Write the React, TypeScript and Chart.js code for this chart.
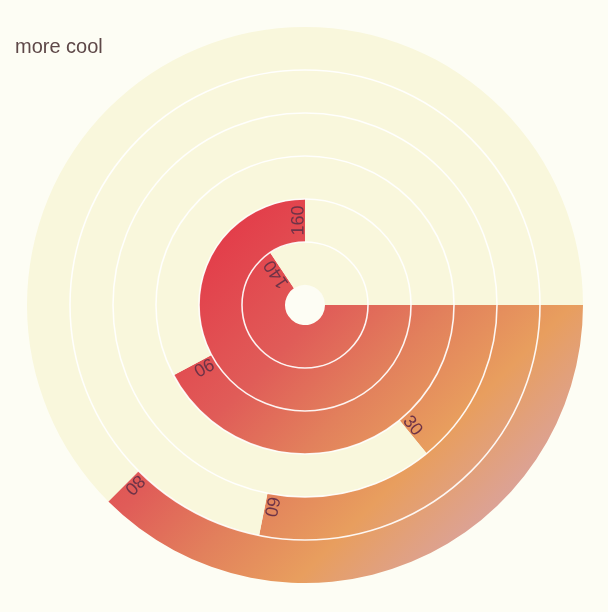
import { useEffect, useRef } from 'react';
import { Chart, registerables } from 'chart.js';

Chart.register(...registerables);

const TITLE = 'more cool';
// radius-axis categories, from the centre outwards
const RING_NAMES = ['r1', 'r2', 'r3', 'r4', 'r5', 'r6'];
const RING_VALUES = [140, 160, 90, 30, 60, 80];
const ANGLE_MAX = 213.3;

const PAGE_BG = '#fdfdf4';
const DISK_BG = '#f9f7dc';
const SPLIT_COLOR = 'rgba(255,255,255,0.9)';
const LABEL_COLOR = '#6e3347';
const TITLE_COLOR = '#5e4848';
const FONT = '"Liberation Sans", Arial, sans-serif';
const GRADIENT_STOPS: [number, string][] = [
  [0, '#e8303e'],
  [0.36, '#e33d4a'],
  [0.52, '#e05c58'],
  [0.63, '#e2805c'],
  [0.74, '#e89e5e'],
  [0.88, '#d9a3a2'],
  [1, '#cfa6c6'],
];

let gradCache: { key: string; g: CanvasGradient } | null = null;
function barGradient(chart: any) {
  const area = chart.chartArea;
  if (!area) return GRADIENT_STOPS[0][1];
  const cx = (area.left + area.right) / 2;
  const cy = (area.top + area.bottom) / 2;
  const r = Math.min(area.width, area.height) / 2;
  const key = `${cx},${cy},${r}`;
  if (gradCache && gradCache.key === key) return gradCache.g;
  const g = chart.ctx.createLinearGradient(cx - r, cy - r, cx + r, cy + r);
  GRADIENT_STOPS.forEach(([o, c]) => g.addColorStop(o, c));
  gradCache = { key, g };
  return g;
}

const decorPlugin = {
  id: 'decor',
  beforeDraw(chart: any) {
    const { ctx, width, height } = chart;
    ctx.save();
    ctx.fillStyle = PAGE_BG;
    ctx.fillRect(0, 0, width, height);
    ctx.restore();
  },
  afterDatasetsDraw(chart: any) {
    const { ctx } = chart;
    const n = chart.data.datasets.length;
    ctx.save();
    // split lines at ring boundaries
    ctx.strokeStyle = SPLIT_COLOR;
    ctx.lineWidth = 1.6;
    for (let i = 0; i < n - 1; i++) {
      const arc: any = chart.getDatasetMeta(i).data[0];
      const p = arc.getProps(['x', 'y', 'innerRadius'], true);
      ctx.beginPath();
      ctx.arc(p.x, p.y, p.innerRadius, 0, Math.PI * 2);
      ctx.stroke();
    }
    // value labels at the inside end of each bar
    ctx.fillStyle = LABEL_COLOR;
    ctx.font = `18px ${FONT}`;
    ctx.textAlign = 'center';
    ctx.textBaseline = 'alphabetic';
    for (let i = 0; i < n; i++) {
      const arc: any = chart.getDatasetMeta(i).data[0];
      const p = arc.getProps(['x', 'y', 'endAngle', 'innerRadius', 'outerRadius'], true);
      const mid = (p.innerRadius + p.outerRadius) / 2;
      const lr = p.innerRadius > 100 ? mid - 9 : mid;
      const a = p.endAngle;
      ctx.save();
      ctx.translate(p.x + lr * Math.cos(a), p.y + lr * Math.sin(a));
      ctx.rotate(a);
      ctx.fillText(String(chart.data.datasets[i].data[0]), 0, -1.5);
      ctx.restore();
    }
    ctx.restore();
  },
  afterDraw(chart: any) {
    const { ctx } = chart;
    ctx.save();
    ctx.fillStyle = TITLE_COLOR;
    ctx.font = `20px ${FONT}`;
    ctx.textAlign = 'left';
    ctx.textBaseline = 'alphabetic';
    ctx.fillText(TITLE, 15, 53);
    ctx.restore();
  },
};

export default function App() {
  const ref = useRef<HTMLCanvasElement | null>(null);
  useEffect(() => {
    if (!ref.current) return;
    // Chart.js doughnut: dataset 0 is the outermost ring
    const order = RING_VALUES.map((_, i) => i).reverse();
    const chart = new Chart(ref.current, {
      type: 'doughnut',
      data: {
        labels: ['value', 'rest'],
        datasets: order.map((i) => ({
          label: RING_NAMES[i],
          data: [RING_VALUES[i], ANGLE_MAX - RING_VALUES[i]],
          backgroundColor: (c: any) => (c.dataIndex === 0 ? barGradient(c.chart) : DISK_BG),
          borderWidth: 0,
          hoverOffset: 0,
          offset: 0,
        })),
      },
      options: {
        animation: false,
        responsive: false,
        maintainAspectRatio: false,
        devicePixelRatio: 1,
        rotation: 90,
        circumference: 360,
        cutout: 20,
        layout: { padding: { left: 27, right: 25, top: 27, bottom: 29 } },
        plugins: {
          legend: { display: false },
          tooltip: { enabled: false },
          title: { display: false },
        },
        events: [],
      } as any,
      plugins: [decorPlugin],
    });
    return () => chart.destroy();
  }, []);
  return (
    <div style={{ position: 'fixed', left: 0, top: 0, width: 608, height: 612 }}>
      <canvas ref={ref} width={608} height={612} style={{ display: 'block' }} />
    </div>
  );
}
